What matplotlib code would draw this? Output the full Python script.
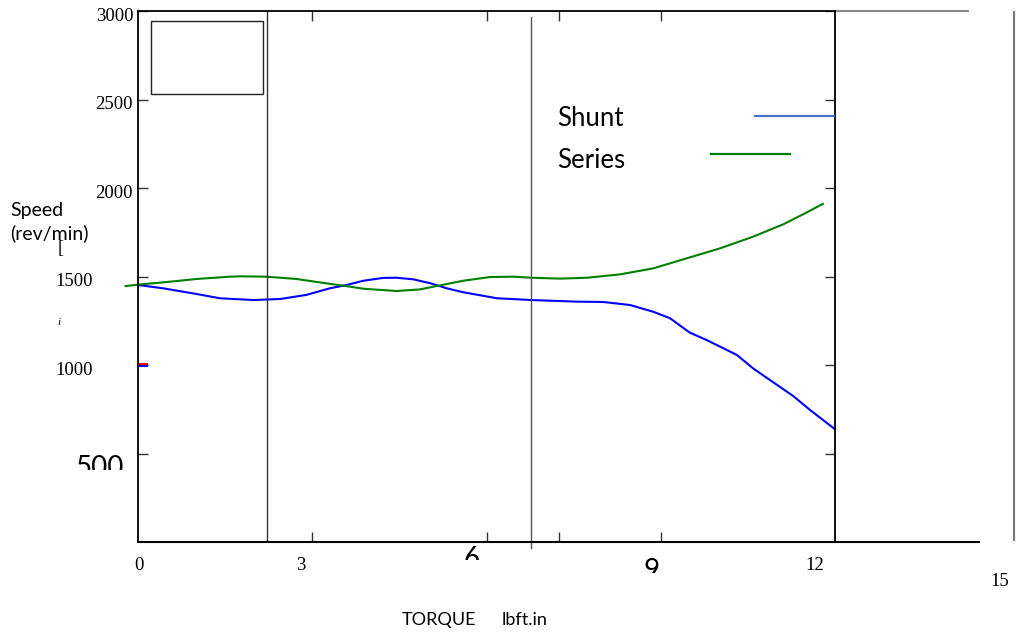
import numpy as np
import matplotlib.pyplot as plt
from matplotlib.patches import Rectangle
from matplotlib.transforms import Bbox, TransformedBbox

# datos (par vs velocidad)
torque_shunt = [0.0, 0.44, 1.01, 1.41, 1.99, 2.45, 2.90, 3.30, 3.59, 3.88,
                4.22, 4.45, 4.74, 5.03, 5.32, 5.60, 6.18, 6.78, 7.55, 8.01,
                8.47, 8.87, 9.16, 9.50, 9.79, 10.31, 10.59, 10.88, 11.28,
                11.57, 12.0]
speed_shunt = [1452, 1433, 1401, 1377, 1367, 1373, 1396, 1433, 1452, 1476,
               1492, 1493, 1484, 1462, 1433, 1411, 1377, 1367, 1358, 1356,
               1339, 1301, 1264, 1183, 1141, 1057, 981, 915, 825,
               746, 637]

torque_series = [-0.21, 0.0, 0.44, 1.01, 1.58, 1.76, 2.21, 2.73, 3.08, 3.60,
                 3.88, 4.45, 4.85, 5.20, 5.60, 6.06, 6.46, 6.78, 7.27, 7.73,
                 8.30, 8.87, 9.45, 10.02, 10.59, 11.11, 11.46, 11.79]
speed_series = [1446, 1454, 1467, 1486, 1499, 1501, 1499, 1486, 1469, 1445,
                1431, 1418, 1427, 1450, 1476, 1497, 1499, 1493, 1488, 1493,
                1512, 1546, 1603, 1659, 1725, 1795, 1853, 1910]

yticks_top = [3000, 2500, 2000]
yticks_mid = [1500, 1000]
xtick_small = ["0", "3", "12", "15"]
xtick_big = ["6", "9"]
legend_names = ["Shunt", "Series"]

W, H = 1018, 632


def fx(px):
    return px / W


def fy(py):
    return 1 - py / H


fig = plt.figure(figsize=(10.18, 6.32), dpi=100)
ax = fig.add_axes([fx(138), fy(542), (835 - 138) / W, (542 - 11) / H])
ax.set_xlim(0, 12)
ax.set_ylim(0, 3000)

ax.plot(torque_shunt, speed_shunt, color="#0000ff", lw=1.5, clip_on=False)
ax.plot(torque_series, speed_series, color="#008000", lw=1.5, clip_on=False)

# marca roja suelta en el eje
ax.plot([0, 0.15], [992, 992], color="#0000ff", lw=1.5, clip_on=False)
ax.plot([0, 0.15], [1005, 1005], color="#ff0000", lw=1.5, clip_on=False)

# lineas verticales
ax.axvline(2.22, color="#333333", lw=1.0)
ax.plot([6.77, 6.77], [-35, 2965], color="#555555", lw=1.0, clip_on=False)

for s in ["top", "bottom"]:
    ax.spines[s].set_visible(False)
ax.spines["left"].set_linewidth(1.3)
ax.spines["right"].set_linewidth(1.3)

# ejes superior e inferior prolongados
ax.plot([0, 14.48], [0, 0], color="black", lw=1.5, clip_on=False)
ax.plot([0, 12], [3000, 3000], color="black", lw=1.3, clip_on=False)
ax.plot([12, 14.29], [3000, 3000], color="#777777", lw=1.3, clip_on=False)
fig.add_artist(plt.Line2D([fx(1014), fx(1014)], [fy(12), fy(540)],
                          color="#777777", lw=1.5))

ax.set_xticks([3, 6, 7.24, 9])
ax.set_yticks([500, 1000, 1500, 2000, 2500, 3000])
ax.tick_params(direction="in", length=7, width=1, top=True, right=True,
               labelbottom=False, labelleft=False, color="#333333")

# caja vacia de leyenda
ax.add_patch(Rectangle((13 / 697, (542 - 94) / 531), 112 / 697, 73 / 531,
                       transform=ax.transAxes, fill=False, lw=1.0,
                       edgecolor="#222222"))

serif = "Liberation Serif"
sans = "Lato"

for v in yticks_top:
    ax.text(-0.007, v - 30, str(v), transform=ax.get_yaxis_transform(),
            ha="right", va="center", family=serif, fontsize=13.5)
for v in yticks_mid:
    ax.text(-0.065, v - 30, str(v), transform=ax.get_yaxis_transform(),
            ha="right", va="center", family=serif, fontsize=13.5)

# etiquetas recortadas
clip_500 = TransformedBbox(Bbox([[0, fy(470)], [fx(137), fy(440)]]),
                           fig.transFigure)
t = fig.text(fx(100), fy(468), "500", ha="center", va="center",
             family=sans, fontsize=20)
t.set_clip_box(clip_500)
t.set_clip_on(True)

big_pos = [(472, 560, 559), (652, 573, 571)]
for lab, (xc, ycut, yc) in zip(xtick_big, big_pos):
    t = fig.text(fx(xc), fy(yc), lab, ha="center", va="center",
                 family=sans, fontsize=20)
    t.set_clip_box(TransformedBbox(Bbox([[fx(xc - 20), fy(ycut)],
                                         [fx(xc + 20), fy(540)]]),
                                   fig.transFigure))
    t.set_clip_on(True)

small_pos = [(139, 565), (301, 565), (815, 565), (1000, 582)]
for lab, (xc, yc) in zip(xtick_small, small_pos):
    fig.text(fx(xc), fy(yc), lab, ha="center", va="center",
             family=serif, fontsize=13.5)

fig.text(fx(10), fy(222), "Speed\n(rev/min)", ha="left", va="center",
         family=sans, fontsize=14, linespacing=1.3)
fig.text(fx(58), fy(249), "[", ha="left", va="center", family=serif,
         fontsize=13)
fig.text(fx(57), fy(322), "i", ha="left", va="center", family=serif,
         style="italic", fontsize=8)

fig.text(fx(402), fy(620), "TORQUE", ha="left", va="center",
         family=sans, fontsize=13)
fig.text(fx(502), fy(620), "lbft.in", ha="left", va="center",
         family=sans, fontsize=13)

# leyenda hecha a mano
leg_y = [118, 160]
leg_line = [(755, 834, 116, "#4472c4"), (711, 790, 154, "#008000")]
for name, yy, (x0, x1, yl, c) in zip(legend_names, leg_y, leg_line):
    fig.text(fx(557), fy(yy), name, ha="left", va="center", family=sans,
             fontsize=18.5)
    fig.add_artist(plt.Line2D([fx(x0), fx(x1)], [fy(yl), fy(yl)],
                              color=c, lw=1.6))

fig.savefig("out.png", dpi=100)
